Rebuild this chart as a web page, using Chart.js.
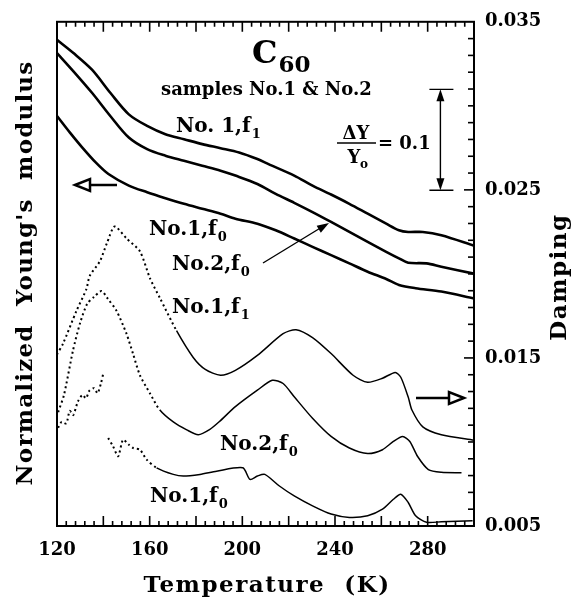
<!DOCTYPE html>
<html>
<head>
<meta charset="utf-8">
<script src="https://cdn.jsdelivr.net/npm/chart.js@4.4.1/dist/chart.umd.min.js"></script>
<style>
  html, body { margin: 0; padding: 0; background: #fff; }
</style>
</head>
<body>
<canvas id="chart" width="576" height="600"></canvas>
<script>
// tick labels
const xTicks = [120, 160, 200, 240, 280];
const dampTicks = [0.005, 0.015, 0.025, 0.035];

// Young's modulus (left axis, normalized, arbitrary offset)
const modNo1f1T = [120, 127.1, 135.1, 143, 151, 158.9, 166.8, 174.8, 182.7, 190.6, 198.6, 206.5, 211.3, 222.4, 230.3, 238.3, 246.2, 254.1, 262.1, 267.6, 271.6, 277.9, 285.9, 300];
const modNo1f1 = [0.9821, 0.9690, 0.9525, 0.9296, 0.9082, 0.8967, 0.8885, 0.8836, 0.8787, 0.8747, 0.8704, 0.8639, 0.8589, 0.8475, 0.8376, 0.8287, 0.8195, 0.8097, 0.7998, 0.7933, 0.7916, 0.7916, 0.7883, 0.7780];

const modNo2f0T = [120, 127.1, 135.1, 143, 151, 158.9, 166.8, 174.8, 182.7, 190.6, 197, 206.5, 214.4, 222.4, 230.3, 238.3, 246.2, 254.1, 262.1, 267.6, 271.6, 279.5, 285.9, 300];
const modNo2f0 = [0.9690, 0.9509, 0.9296, 0.9066, 0.8852, 0.8737, 0.8672, 0.8622, 0.8573, 0.8524, 0.8475, 0.8392, 0.8294, 0.8205, 0.8113, 0.8015, 0.7916, 0.7818, 0.7719, 0.7654, 0.7611, 0.7604, 0.7571, 0.7502];

const modNo1f0T = [120, 125.6, 130.3, 136.7, 142.2, 151, 158.9, 166.8, 174.8, 182.7, 190.6, 197, 206.5, 214.4, 222.4, 230.3, 238.3, 246.2, 254.1, 262.1, 267.6, 274.8, 285.9, 300];
const modNo1f0 = [0.9066, 0.8901, 0.8770, 0.8606, 0.8491, 0.8376, 0.8310, 0.8251, 0.8195, 0.8146, 0.8097, 0.8048, 0.7998, 0.7933, 0.7851, 0.7768, 0.7686, 0.7604, 0.7522, 0.7450, 0.7391, 0.7358, 0.7325, 0.7256];

// Damping (right axis)
const dampNo1f1T = [120, 122.6, 128.4, 132.7, 134.1, 138.5, 141.5, 144.9, 150, 155.8, 160.1, 164.4, 171.6, 178.8, 184, 190.6, 197, 206.5, 217.6, 223.2, 230.3, 238.3, 247.8, 254.1, 260.5, 266, 268.4, 271.6, 273.2, 277.9, 285.9, 300];
const dampNo1f1 = [0.01521, 0.01585, 0.01780, 0.01910, 0.01987, 0.02075, 0.02181, 0.02282, 0.02211, 0.02134, 0.01975, 0.01857, 0.01662, 0.01503, 0.01432, 0.01397, 0.01426, 0.01515, 0.01644, 0.01668, 0.01621, 0.01526, 0.01397, 0.01355, 0.01379, 0.01414, 0.01385, 0.01267, 0.01190, 0.01090, 0.01043, 0.01010];

const dampNo2f0T = [120.5, 123, 126.9, 130, 133, 136, 139.2, 142, 145.7, 150, 152.9, 155.8, 160.1, 164.4, 170.2, 176, 181, 186, 190, 197, 206.5, 212.9, 217.6, 222.4, 230.3, 238.3, 246.2, 254.1, 260.5, 265.2, 269.2, 272.3, 275.6, 280.3, 285.9, 294.6];
const dampNo2f0 = [0.01178, 0.01279, 0.01544, 0.01709, 0.01821, 0.01863, 0.01898, 0.01851, 0.01780, 0.01644, 0.01521, 0.01397, 0.01290, 0.01190, 0.01119, 0.01072, 0.01043, 0.01075, 0.01120, 0.01210, 0.01308, 0.01367, 0.01348, 0.01269, 0.01141, 0.01033, 0.00964, 0.00931, 0.00954, 0.01003, 0.01033, 0.01003, 0.00915, 0.00836, 0.00820, 0.00817];

const dampExtraT = [120.5, 122, 124, 125.5, 127, 129, 131, 132.5, 134, 136, 137.5, 139, 140];
const dampExtra = [0.01085, 0.01120, 0.01110, 0.01185, 0.01160, 0.01240, 0.01280, 0.01260, 0.01305, 0.01320, 0.01290, 0.01350, 0.01410];

const dampNo1f0T = [142.1, 144.2, 146.4, 148.5, 151, 152.9, 155.8, 158.7, 163, 170.2, 174.5, 181.7, 188.9, 200.2, 203.3, 206.5, 209.7, 216, 222.4, 230.3, 238.3, 246.2, 254.1, 260.5, 265.2, 268.4, 271.6, 274.8, 279.5, 285.9, 299.4];
const dampNo1f0 = [0.01023, 0.00974, 0.00915, 0.01013, 0.00984, 0.00964, 0.00954, 0.00895, 0.00846, 0.00807, 0.00797, 0.00807, 0.00826, 0.00846, 0.00777, 0.00797, 0.00807, 0.00738, 0.00679, 0.00620, 0.00571, 0.00551, 0.00561, 0.00600, 0.00659, 0.00689, 0.00640, 0.00561, 0.00522, 0.00525, 0.00531];

const SERIF = '"DejaVu Serif", serif';

function pts(t, v) {
  return t.map((x, i) => ({ x: x, y: v[i] }));
}

function modSet(t, v) {
  return {
    data: pts(t, v), yAxisID: 'mod', borderColor: '#000', borderWidth: 2.6,
    pointRadius: 0, tension: 0.3, fill: false
  };
}

// low-temperature part of damping runs is sparse, drawn dotted
function dampSet(t, v, dashBelow) {
  return {
    data: pts(t, v), yAxisID: 'damp', borderColor: '#000', borderWidth: 1.5,
    pointRadius: 0, tension: 0.25, fill: false,
    segment: {
      borderDash: c => (c.p1.parsed.x < dashBelow ? [2, 3] : undefined),
      borderWidth: c => (c.p1.parsed.x < dashBelow ? 2 : 1.5)
    }
  };
}

function subLabel(ctx, x, y, main, sub) {
  ctx.font = 'bold 20px ' + SERIF;
  ctx.textAlign = 'left';
  ctx.textBaseline = 'alphabetic';
  ctx.fillText(main, x, y);
  const w = ctx.measureText(main).width;
  ctx.font = 'bold 13px ' + SERIF;
  ctx.fillText(sub, x + w + 1, y + 6);
}

function openArrow(ctx, x0, x1, y) {
  // line from x0 to x1, hollow triangle head at x1
  const dir = x1 > x0 ? 1 : -1;
  const base = x1 - dir * 15;
  ctx.lineWidth = 2.5;
  ctx.beginPath();
  ctx.moveTo(x0, y);
  ctx.lineTo(base, y);
  ctx.stroke();
  ctx.beginPath();
  ctx.moveTo(x1, y);
  ctx.lineTo(base, y - 6);
  ctx.lineTo(base, y + 6);
  ctx.closePath();
  ctx.stroke();
}

function filledHead(ctx, tx, ty, fx, fy, len, half) {
  const a = Math.atan2(ty - fy, tx - fx);
  ctx.beginPath();
  ctx.moveTo(tx, ty);
  ctx.lineTo(tx - len * Math.cos(a) + half * Math.sin(a), ty - len * Math.sin(a) - half * Math.cos(a));
  ctx.lineTo(tx - len * Math.cos(a) - half * Math.sin(a), ty - len * Math.sin(a) + half * Math.cos(a));
  ctx.closePath();
  ctx.fill();
}

const decor = {
  id: 'decor',
  afterDatasetsDraw(chart) {
    const ctx = chart.ctx;
    const a = chart.chartArea;
    const xs = chart.scales.x;
    const ds = chart.scales.damp;
    const ms = chart.scales.mod;
    ctx.save();
    ctx.strokeStyle = '#000';
    ctx.fillStyle = '#000';

    // frame
    ctx.lineWidth = 2;
    ctx.strokeRect(a.left, a.top, a.right - a.left, a.bottom - a.top);

    // inward ticks, bottom and top
    ctx.lineWidth = 1.6;
    for (let t = 124; t < 300; t += 4) {
      const px = xs.getPixelForValue(t);
      const len = t % 20 === 0 ? 10 : 5;
      ctx.beginPath();
      ctx.moveTo(px, a.bottom);
      ctx.lineTo(px, a.bottom - len);
      ctx.moveTo(px, a.top);
      ctx.lineTo(px, a.top + len);
      ctx.stroke();
    }
    // inward ticks, right
    for (let k = 6; k < 35; k++) {
      const py = ds.getPixelForValue(k / 1000);
      const len = (k % 10 === 5) ? 10 : 6;
      ctx.beginPath();
      ctx.moveTo(a.right, py);
      ctx.lineTo(a.right - len, py);
      ctx.stroke();
    }

    // scale bar dY/Yo = 0.1
    const bx = xs.getPixelForValue(285.5);
    const yTop = ms.getPixelForValue(0.933);
    const yBot = ms.getPixelForValue(0.833);
    ctx.lineWidth = 1.4;
    ctx.beginPath();
    ctx.moveTo(bx, yTop + 4);
    ctx.lineTo(bx, yBot - 4);
    ctx.moveTo(bx - 11, yTop);
    ctx.lineTo(bx + 13, yTop);
    ctx.moveTo(bx - 11, yBot);
    ctx.lineTo(bx + 13, yBot);
    ctx.stroke();
    filledHead(ctx, bx, yTop, bx, yTop + 20, 12, 4);
    filledHead(ctx, bx, yBot, bx, yBot - 20, 12, 4);

    // arrow to No.2 f0 modulus curve
    ctx.lineWidth = 1.4;
    ctx.beginPath();
    ctx.moveTo(263, 263);
    ctx.lineTo(322, 227);
    ctx.stroke();
    filledHead(ctx, 329, 223, 263, 263, 12, 4);

    // axis pointers
    openArrow(ctx, 117, 75, 185);
    openArrow(ctx, 416, 464, 398);
    ctx.restore();
  },
  afterDraw(chart) {
    const ctx = chart.ctx;
    ctx.save();
    ctx.fillStyle = '#000';
    ctx.strokeStyle = '#000';

    // C60
    ctx.textAlign = 'left';
    ctx.textBaseline = 'alphabetic';
    ctx.font = 'bold 32px ' + SERIF;
    ctx.fillText('C', 252, 63);
    const cw = ctx.measureText('C').width;
    ctx.font = 'bold 23px ' + SERIF;
    ctx.fillText('60', 252 + cw + 1, 72);

    ctx.font = 'bold 18px ' + SERIF;
    ctx.fillText('samples No.1 & No.2', 161, 95);

    subLabel(ctx, 176, 132, 'No. 1,f', '1');
    subLabel(ctx, 149, 235, 'No.1,f', '0');
    subLabel(ctx, 172, 270, 'No.2,f', '0');
    subLabel(ctx, 172, 313, 'No.1,f', '1');
    subLabel(ctx, 220, 450, 'No.2,f', '0');
    subLabel(ctx, 150, 502, 'No.1,f', '0');

    // dY / Yo = 0.1
    ctx.font = 'bold 18px ' + SERIF;
    ctx.textAlign = 'center';
    ctx.fillText('\u0394Y', 356, 139);
    ctx.fillText('Y', 354, 163);
    ctx.font = 'bold 12px ' + SERIF;
    ctx.fillText('o', 364, 168);
    ctx.lineWidth = 1.5;
    ctx.beginPath();
    ctx.moveTo(337, 143);
    ctx.lineTo(376, 143);
    ctx.stroke();
    ctx.font = 'bold 18px ' + SERIF;
    ctx.textAlign = 'left';
    ctx.fillText('= 0.1', 378, 149);

    // axis titles
    ctx.font = 'bold 23px ' + SERIF;
    ctx.letterSpacing = '1.5px';
    ctx.textAlign = 'center';
    ctx.textBaseline = 'middle';
    ctx.fillText('Temperature  (K)', 267, 586);

    ctx.save();
    ctx.letterSpacing = '1.2px';
    ctx.translate(26, 273);
    ctx.rotate(-Math.PI / 2);
    ctx.fillText("Normalized  Young's  modulus", 0, 0);
    ctx.restore();

    ctx.save();
    ctx.translate(560, 277);
    ctx.rotate(-Math.PI / 2);
    ctx.fillText('Damping', 0, 0);
    ctx.restore();

    ctx.restore();
  }
};

new Chart(document.getElementById('chart'), {
  type: 'line',
  data: {
    datasets: [
      modSet(modNo1f1T, modNo1f1),
      modSet(modNo2f0T, modNo2f0),
      modSet(modNo1f0T, modNo1f0),
      dampSet(dampNo1f1T, dampNo1f1, 178),
      dampSet(dampNo2f0T, dampNo2f0, 166),
      dampSet(dampExtraT, dampExtra, 141),
      dampSet(dampNo1f0T, dampNo1f0, 165)
    ]
  },
  options: {
    responsive: false,
    animation: false,
    layout: { padding: { top: 18, left: 0, right: 0, bottom: 0 } },
    plugins: { legend: { display: false }, tooltip: { enabled: false } },
    scales: {
      x: {
        type: 'linear', position: 'bottom', min: 120, max: 300,
        afterBuildTicks: s => { s.ticks = xTicks.map(v => ({ value: v })); },
        afterFit: s => { s.height = 74; },
        grid: { display: false, drawTicks: false },
        border: { display: false },
        ticks: { color: '#000', padding: 14, maxRotation: 0, font: { family: SERIF, size: 18, weight: 'bold' } }
      },
      mod: {
        type: 'linear', position: 'left', min: 0.5, max: 1.0,
        afterFit: s => { s.width = 57; },
        grid: { display: false, drawTicks: false },
        border: { display: false },
        ticks: { display: false }
      },
      damp: {
        type: 'linear', position: 'right', min: 0.005, max: 0.035,
        afterBuildTicks: s => { s.ticks = dampTicks.map(v => ({ value: v })); },
        afterFit: s => { s.width = 102; },
        grid: { display: false, drawTicks: false },
        border: { display: false },
        ticks: {
          color: '#000', padding: 11, font: { family: SERIF, size: 18, weight: 'bold' },
          callback: v => v.toFixed(3)
        }
      }
    }
  },
  plugins: [decor]
});
</script>
</body>
</html>
